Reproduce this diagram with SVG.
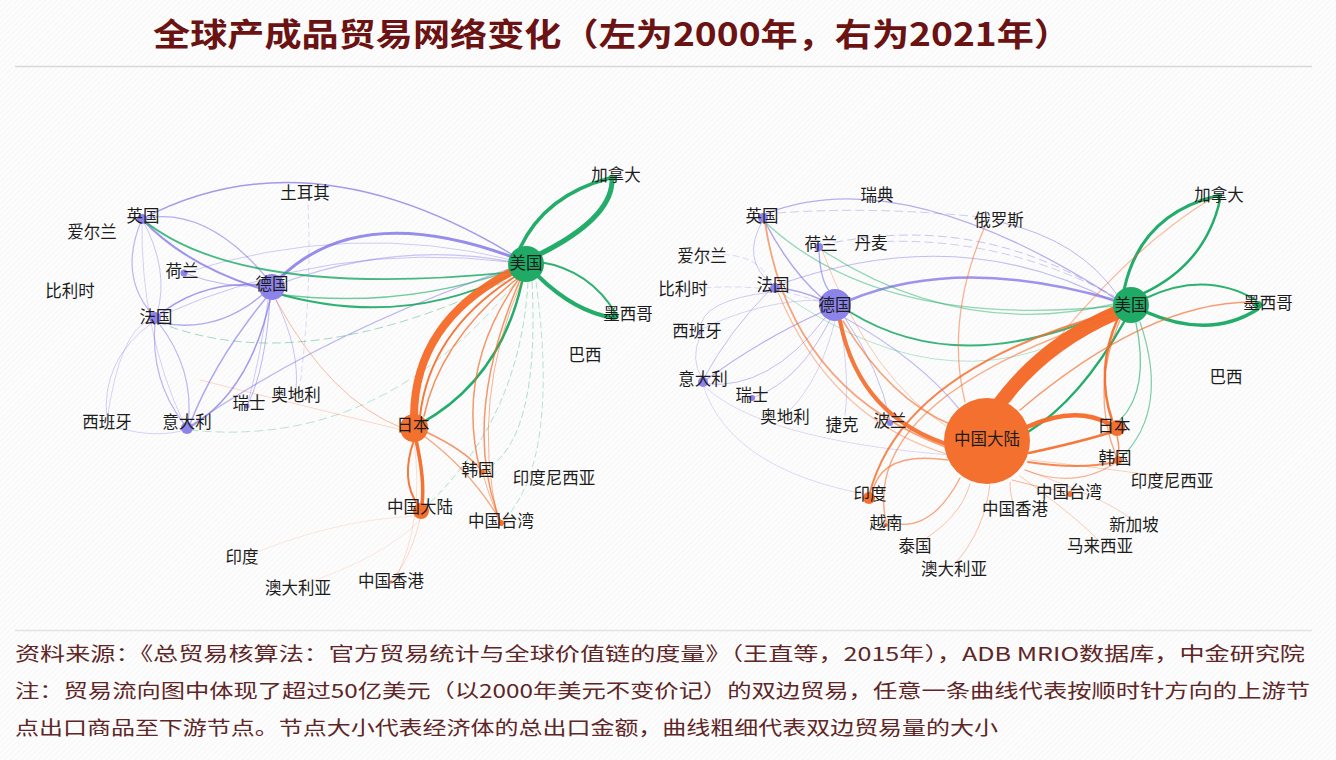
<svg xmlns="http://www.w3.org/2000/svg" width="1336" height="760" viewBox="0 0 1336 760">
<defs>
<pattern id="hatch" width="4" height="4" patternUnits="userSpaceOnUse" patternTransform="rotate(45)">
<rect width="4" height="4" fill="#fdfdfd"/>
<line x1="0" y1="0" x2="0" y2="4" stroke="#efefef" stroke-width="1"/>
</pattern>
<style>
.lbl{font-family:"Noto Sans CJK SC","Noto Sans",sans-serif;font-size:16.5px;fill:#1c1c1c;text-anchor:middle;dominant-baseline:central}
.title{font-family:"Noto Sans CJK SC",sans-serif;font-size:32px;font-weight:700;fill:#6b1212}
.foot{font-family:"Noto Sans CJK SC",sans-serif;font-size:19px;fill:#5e2626}
.e path{fill:none;stroke-linecap:round}
.p{stroke:#7d70e6}
.g{stroke:#17a862}
.o{stroke:#f46a28}
.np{fill:#8c84ea}
.ng{fill:#1fab66}
.no{fill:#f4702e}
</style>
</defs>
<rect width="1336" height="760" fill="url(#hatch)"/>
<text class="title" x="153" y="46" textLength="918" lengthAdjust="spacingAndGlyphs">全球产成品贸易网络变化（左为2000年，右为2021年）</text>
<line x1="15" y1="66.5" x2="1312" y2="66.5" stroke="#d8d8d8" stroke-width="1.5"/>
<line x1="15" y1="630.5" x2="1312" y2="630.5" stroke="#e2e2e2" stroke-width="1.5"/>

<g id="connectors" class="e">
<!-- left network: purple -->
<path class="p" d="M142,219 Q310,130 518,258" stroke-width="1.3" opacity=".7"/>
<path class="p" d="M142,219 Q205,205 266,277" stroke-width="1.3" opacity=".55"/>
<path class="p" d="M142,219 Q185,265 262,289" stroke-width="2" opacity=".75"/>
<path class="p" d="M142,219 Q118,275 152,314" stroke-width="1.2" opacity=".5"/>
<path class="p" d="M142,219 Q170,270 157,314" stroke-width="1" opacity=".4"/>
<path class="p" d="M155,318 Q200,280 262,285" stroke-width="1.5" opacity=".7"/>
<path class="p" d="M157,322 Q215,335 262,295" stroke-width="1.5" opacity=".6"/>
<path class="p" d="M266,298 Q215,360 190,424" stroke-width="1.5" opacity=".6"/>
<path class="p" d="M270,300 Q250,390 192,426" stroke-width="1.5" opacity=".7"/>
<path class="p" d="M155,322 Q150,380 184,424" stroke-width="1.2" opacity=".5"/>
<path class="p" d="M158,322 Q195,370 188,424" stroke-width="1.2" opacity=".5"/>
<path class="p" d="M153,322 Q100,360 107,420" stroke-width="1" opacity=".35"/>
<path class="p" d="M107,424 Q150,440 185,430" stroke-width="1" opacity=".3"/>
<path class="p" d="M270,300 Q265,370 248,404" stroke-width="1" opacity=".5"/>
<path class="p" d="M276,300 Q300,350 296,390" stroke-width="1" opacity=".4"/>
<path class="p" d="M184,273 Q230,290 262,285" stroke-width="1" opacity=".5"/>
<path class="p" d="M280,278 Q360,200 515,258" stroke-width="3" opacity=".8"/>
<path class="p" d="M282,283 Q400,240 512,262" stroke-width="1.2" opacity=".4"/>
<path class="p" d="M190,426 Q330,330 512,268" stroke-width="1.2" opacity=".5"/>
<path class="p" d="M160,316 Q330,240 510,262" stroke-width="1" opacity=".4"/>
<path class="p" d="M184,273 Q350,220 512,260" stroke-width="1" opacity=".35"/>
<path class="p" d="M142,219 Q140,330 184,424" stroke-width="1" opacity=".3"/>
<path class="p" d="M247,406 Q260,360 268,300" stroke-width="1" opacity=".35"/>
<path class="p" d="M308,205 Q312,290 300,385" stroke-width="1" opacity=".25" stroke-dasharray="5 4"/>
<path class="p" d="M107,420 Q120,330 150,320" stroke-width="1" opacity=".3"/>
<!-- left: green -->
<path class="g" d="M142,219 Q240,300 514,272" stroke-width="1.8" opacity=".8"/>
<path class="g" d="M272,292 Q400,330 512,274" stroke-width="2" opacity=".9"/>
<path class="g" d="M276,294 Q400,310 512,270" stroke-width="1.5" opacity=".6"/>
<path class="g" d="M158,322 Q300,380 512,278" stroke-width="1" opacity=".4" stroke-dasharray="8 5"/>
<path class="g" d="M190,430 Q380,450 516,282" stroke-width="1" opacity=".3" stroke-dasharray="8 5"/>
<path class="g" d="M522,282 Q500,380 420,424" stroke-width="2.5" opacity=".95"/>
<path class="g" d="M528,282 Q520,420 424,508" stroke-width="1" opacity=".35" stroke-dasharray="6 4"/>
<path class="g" d="M532,282 Q540,440 485,470" stroke-width="1" opacity=".35" stroke-dasharray="6 4"/>
<path class="g" d="M536,282 Q560,460 504,520" stroke-width="1" opacity=".3" stroke-dasharray="6 4"/>
<path class="g" d="M520,248 Q545,195 610,178" stroke-width="3.5" opacity=".95"/>
<path class="g" d="M612,182 Q610,220 536,256" stroke-width="5" opacity=".95"/>
<path class="g" d="M540,262 Q590,270 616,314" stroke-width="2" opacity=".9"/>
<path class="g" d="M538,276 Q575,312 614,318" stroke-width="4" opacity=".95"/>
<!-- left: orange -->
<path class="o" d="M414,416 Q415,320 515,270" stroke-width="8" opacity=".95"/>
<path class="o" d="M420,416 Q430,330 516,276" stroke-width="2" opacity=".9"/>
<path class="o" d="M424,416 Q440,340 518,278" stroke-width="1.5" opacity=".75"/>
<path class="o" d="M414,440 Q400,480 418,505" stroke-width="2" opacity=".9"/>
<path class="o" d="M416,440 Q425,480 422,504" stroke-width="3.5" opacity=".95"/>
<path class="o" d="M518,280 Q455,370 480,470" stroke-width="1.5" opacity=".7"/>
<path class="o" d="M520,280 Q460,420 500,520" stroke-width="1.5" opacity=".7"/>
<path class="o" d="M522,280 Q470,400 498,520" stroke-width="1" opacity=".5"/>
<path class="o" d="M426,432 Q465,450 481,470" stroke-width="1.5" opacity=".7"/>
<path class="o" d="M424,436 Q470,470 500,520" stroke-width="1.3" opacity=".6"/>
<path class="o" d="M483,474 Q490,500 500,520" stroke-width="1" opacity=".5"/>
<path class="o" d="M276,300 Q330,400 402,428" stroke-width="1" opacity=".45"/>
<path class="o" d="M200,380 Q320,410 402,430" stroke-width="1" opacity=".25"/>
<path class="o" d="M420,520 Q410,560 392,580" stroke-width=".8" opacity=".3"/>
<path class="o" d="M414,442 Q425,520 395,580" stroke-width=".8" opacity=".25"/>
<path class="o" d="M300,585 Q380,560 420,520" stroke-width=".8" opacity=".2"/>
<path class="o" d="M243,558 Q330,520 416,516" stroke-width=".8" opacity=".2"/>

<!-- right network: purple -->
<path class="p" d="M765,214 Q900,160 1115,298" stroke-width="1.3" opacity=".55"/>
<path class="p" d="M765,214 Q870,205 990,218" stroke-width="1" opacity=".35" stroke-dasharray="8 5"/>
<path class="p" d="M850,300 Q960,255 1114,300" stroke-width="2.5" opacity=".75"/>
<path class="p" d="M778,285 Q960,220 1114,302" stroke-width="1.2" opacity=".45"/>
<path class="p" d="M822,245 Q980,210 1114,298" stroke-width="1" opacity=".4" stroke-dasharray="8 5"/>
<path class="p" d="M873,242 Q1000,235 1114,296" stroke-width="1" opacity=".35" stroke-dasharray="8 5"/>
<path class="p" d="M1000,222 Q1080,240 1118,296" stroke-width="1" opacity=".5"/>
<path class="p" d="M765,222 Q790,270 822,298" stroke-width="1.5" opacity=".6"/>
<path class="p" d="M819,250 Q820,280 830,292" stroke-width="1.3" opacity=".6"/>
<path class="p" d="M778,288 Q800,290 822,300" stroke-width="1.5" opacity=".6"/>
<path class="p" d="M822,312 Q760,340 706,380" stroke-width="1.2" opacity=".55"/>
<path class="p" d="M825,318 Q770,390 706,384" stroke-width="1" opacity=".45"/>
<path class="p" d="M830,320 Q800,380 755,397" stroke-width="1" opacity=".45"/>
<path class="p" d="M835,321 Q820,380 790,410" stroke-width="1" opacity=".3"/>
<path class="p" d="M840,321 Q850,380 845,415" stroke-width="1" opacity=".3"/>
<path class="p" d="M845,318 Q880,370 890,420" stroke-width="1" opacity=".45"/>
<path class="p" d="M770,290 Q730,330 704,378" stroke-width="1" opacity=".45"/>
<path class="p" d="M772,292 Q700,300 700,330" stroke-width="1" opacity=".35"/>
<path class="p" d="M700,336 Q690,360 702,378" stroke-width="1" opacity=".3"/>
<path class="p" d="M703,385 Q760,440 950,455" stroke-width="1" opacity=".25"/>
<path class="p" d="M763,220 Q740,260 772,284" stroke-width="1" opacity=".4"/>
<path class="p" d="M700,330 Q760,300 822,300" stroke-width="1" opacity=".3"/>
<path class="p" d="M685,290 Q760,280 820,302" stroke-width="1" opacity=".25" stroke-dasharray="6 4"/>
<path class="p" d="M703,255 Q760,250 770,284" stroke-width="1" opacity=".25" stroke-dasharray="6 4"/>
<path class="p" d="M845,318 Q920,360 960,410" stroke-width="1.3" opacity=".45"/>
<path class="p" d="M703,385 Q730,470 870,495" stroke-width="1" opacity=".25"/>
<!-- right: green -->
<path class="g" d="M1124,290 Q1140,215 1216,196" stroke-width="3" opacity=".95"/>
<path class="g" d="M1220,200 Q1205,265 1142,294" stroke-width="2.5" opacity=".95"/>
<path class="g" d="M1146,298 Q1205,270 1256,300" stroke-width="2" opacity=".9"/>
<path class="g" d="M1146,312 Q1210,340 1258,309" stroke-width="3.5" opacity=".95"/>
<path class="g" d="M850,312 Q960,380 1114,310" stroke-width="2" opacity=".85"/>
<path class="g" d="M765,222 Q880,330 1114,306" stroke-width="1.3" opacity=".45"/>
<path class="g" d="M822,250 Q960,340 1114,304" stroke-width="1.3" opacity=".45"/>
<path class="g" d="M1124,322 Q1080,400 1028,432" stroke-width="2.5" opacity=".95"/>
<path class="g" d="M1136,323 Q1150,390 1120,420" stroke-width="1.3" opacity=".6"/>
<path class="g" d="M1140,322 Q1170,410 1121,458" stroke-width="1.2" opacity=".55"/>
<path class="g" d="M780,292 Q960,420 1114,312" stroke-width="1" opacity=".3"/>
<!-- right: orange -->
<path class="o" d="M995,410 Q1040,345 1118,312" stroke-width="14" opacity=".97"/>
<path class="o" d="M1027,427 Q1075,405 1110,424" stroke-width="4.5" opacity=".95"/>
<path class="o" d="M1029,453 Q1080,442 1112,432" stroke-width="2.5" opacity=".9"/>
<path class="o" d="M1028,462 Q1080,470 1115,462" stroke-width="2" opacity=".8"/>
<path class="o" d="M1025,470 Q1075,490 1117,462" stroke-width="1.2" opacity=".5"/>
<path class="o" d="M1118,318 Q1095,370 1112,420" stroke-width="2.5" opacity=".9"/>
<path class="o" d="M1120,320 Q1090,390 1116,456" stroke-width="1.3" opacity=".6"/>
<path class="o" d="M840,321 Q860,420 956,447" stroke-width="4" opacity=".9"/>
<path class="o" d="M843,321 Q890,400 952,425" stroke-width="1.5" opacity=".6"/>
<path class="o" d="M765,222 Q790,390 948,448" stroke-width="1.8" opacity=".6"/>
<path class="o" d="M778,292 Q830,420 950,455" stroke-width="1.3" opacity=".4"/>
<path class="o" d="M822,250 Q870,380 952,430" stroke-width="1" opacity=".35"/>
<path class="o" d="M869,496 Q900,370 1114,312" stroke-width="2" opacity=".8"/>
<path class="o" d="M948,460 Q880,450 872,494" stroke-width="1.5" opacity=".6"/>
<path class="o" d="M888,522 Q930,535 960,478" stroke-width="1.3" opacity=".6"/>
<path class="o" d="M886,522 Q860,400 1114,316" stroke-width="1.5" opacity=".55"/>
<path class="o" d="M915,545 Q960,520 970,484" stroke-width="1" opacity=".4"/>
<path class="o" d="M954,565 Q985,530 990,484" stroke-width="1" opacity=".4"/>
<path class="o" d="M985,226 Q945,320 965,402" stroke-width="1.3" opacity=".5"/>
<path class="o" d="M1212,198 Q1110,260 1010,402" stroke-width="1.2" opacity=".45"/>
<path class="o" d="M1020,410 Q1150,300 1256,302" stroke-width="1.5" opacity=".65"/>
<path class="o" d="M1010,482 Q1010,495 1014,506" stroke-width="1" opacity=".4"/>
<path class="o" d="M1012,480 Q1050,490 1068,492" stroke-width="1" opacity=".5"/>
<path class="o" d="M1020,476 Q1080,520 1100,542" stroke-width="1" opacity=".35"/>
<path class="o" d="M1025,470 Q1110,500 1132,520" stroke-width="1" opacity=".3"/>
<path class="o" d="M1030,460 Q1120,470 1170,478" stroke-width="1" opacity=".3"/>
<path class="o" d="M1117,436 Q1120,448 1118,456" stroke-width="1.5" opacity=".7"/>
</g>

<!-- left network nodes -->
<g id="L-uk"><circle class="np" cx="142" cy="219" r="5"/><text class="lbl" x="143" y="215">英国</text></g>
<g id="L-ireland"><text class="lbl" x="92" y="231">爱尔兰</text></g>
<g id="L-turkey"><text class="lbl" x="305" y="192">土耳其</text></g>
<g id="L-netherlands"><circle class="np" cx="184" cy="273" r="3.5"/><text class="lbl" x="182" y="270">荷兰</text></g>
<g id="L-belgium"><text class="lbl" x="70" y="290">比利时</text></g>
<g id="L-germany"><circle class="np" cx="272" cy="287" r="13"/><text class="lbl" x="272" y="283">德国</text></g>
<g id="L-france"><circle class="np" cx="155" cy="318" r="6"/><text class="lbl" x="156" y="316">法国</text></g>
<g id="L-spain"><text class="lbl" x="107" y="421">西班牙</text></g>
<g id="L-italy"><circle class="np" cx="187" cy="428" r="6"/><text class="lbl" x="187" y="421">意大利</text></g>
<g id="L-switzerland"><circle class="np" cx="247" cy="406" r="2.5"/><text class="lbl" x="249" y="402">瑞士</text></g>
<g id="L-austria"><text class="lbl" x="296" y="394">奥地利</text></g>
<g id="L-us"><circle class="ng" cx="526" cy="264" r="18"/><text class="lbl" x="526" y="262">美国</text></g>
<g id="L-canada"><circle class="ng" cx="612" cy="178" r="3.5"/><text class="lbl" x="616" y="174">加拿大</text></g>
<g id="L-mexico"><circle class="ng" cx="615" cy="316" r="3.5"/><text class="lbl" x="628" y="313">墨西哥</text></g>
<g id="L-brazil"><text class="lbl" x="585" y="354">巴西</text></g>
<g id="L-japan"><circle class="no" cx="414" cy="428" r="14"/><text class="lbl" x="413" y="424">日本</text></g>
<g id="L-korea"><circle class="no" cx="482" cy="472" r="3"/><text class="lbl" x="478" y="469">韩国</text></g>
<g id="L-indonesia"><text class="lbl" x="554" y="477">印度尼西亚</text></g>
<g id="L-china"><circle class="no" cx="421" cy="511" r="8"/><text class="lbl" x="420" y="506">中国大陆</text></g>
<g id="L-taiwan"><circle class="no" cx="501" cy="523" r="3"/><text class="lbl" x="501" y="520">中国台湾</text></g>
<g id="L-india"><text class="lbl" x="242" y="556">印度</text></g>
<g id="L-australia"><text class="lbl" x="298" y="587">澳大利亚</text></g>
<g id="L-hongkong"><circle class="no" cx="391" cy="582" r="1.5"/><text class="lbl" x="391" y="580">中国香港</text></g>

<!-- right network nodes -->
<g id="R-sweden"><text class="lbl" x="877" y="194">瑞典</text></g>
<g id="R-uk"><circle class="np" cx="763" cy="218" r="5"/><text class="lbl" x="762" y="215">英国</text></g>
<g id="R-russia"><text class="lbl" x="999" y="219">俄罗斯</text></g>
<g id="R-canada"><circle class="ng" cx="1219" cy="196" r="3"/><text class="lbl" x="1219" y="194">加拿大</text></g>
<g id="R-netherlands"><circle class="np" cx="819" cy="247" r="4"/><text class="lbl" x="821" y="243">荷兰</text></g>
<g id="R-denmark"><text class="lbl" x="871" y="242">丹麦</text></g>
<g id="R-ireland"><text class="lbl" x="702" y="255">爱尔兰</text></g>
<g id="R-france"><circle class="np" cx="775" cy="288" r="5"/><text class="lbl" x="773" y="284">法国</text></g>
<g id="R-belgium"><text class="lbl" x="683" y="288">比利时</text></g>
<g id="R-germany"><circle class="np" cx="835" cy="305" r="16"/><text class="lbl" x="835" y="304">德国</text></g>
<g id="R-us"><circle class="ng" cx="1131" cy="305" r="18"/><text class="lbl" x="1131" y="304">美国</text></g>
<g id="R-mexico"><circle class="ng" cx="1258" cy="305" r="4"/><text class="lbl" x="1268" y="302">墨西哥</text></g>
<g id="R-spain"><circle class="np" cx="699" cy="333" r="2"/><text class="lbl" x="697" y="330">西班牙</text></g>
<g id="R-brazil"><text class="lbl" x="1226" y="376">巴西</text></g>
<g id="R-italy"><circle class="np" cx="703" cy="382" r="5"/><text class="lbl" x="703" y="378">意大利</text></g>
<g id="R-switzerland"><circle class="np" cx="752" cy="398" r="3"/><text class="lbl" x="752" y="394">瑞士</text></g>
<g id="R-austria"><text class="lbl" x="785" y="416">奥地利</text></g>
<g id="R-czech"><text class="lbl" x="842" y="424">捷克</text></g>
<g id="R-poland"><circle class="np" cx="890" cy="423" r="3"/><text class="lbl" x="890" y="420">波兰</text></g>
<g id="R-china"><circle class="no" cx="987" cy="441" r="43"/><text class="lbl" x="987" y="438">中国大陆</text></g>
<g id="R-japan"><circle class="no" cx="1117" cy="428" r="8"/><text class="lbl" x="1114" y="425">日本</text></g>
<g id="R-korea"><circle class="no" cx="1118" cy="460" r="4"/><text class="lbl" x="1115" y="457">韩国</text></g>
<g id="R-indonesia"><text class="lbl" x="1172" y="480">印度尼西亚</text></g>
<g id="R-india"><circle class="no" cx="869" cy="498" r="6"/><text class="lbl" x="870" y="493">印度</text></g>
<g id="R-taiwan"><circle class="no" cx="1070" cy="494" r="3"/><text class="lbl" x="1069" y="491">中国台湾</text></g>
<g id="R-hongkong"><text class="lbl" x="1015" y="508">中国香港</text></g>
<g id="R-singapore"><text class="lbl" x="1134" y="524">新加坡</text></g>
<g id="R-vietnam"><circle class="no" cx="886" cy="525" r="2"/><text class="lbl" x="886" y="522">越南</text></g>
<g id="R-malaysia"><text class="lbl" x="1100" y="545">马来西亚</text></g>
<g id="R-thailand"><text class="lbl" x="915" y="545">泰国</text></g>
<g id="R-australia"><text class="lbl" x="954" y="568">澳大利亚</text></g>

<text class="foot" x="15" y="661" textLength="1290" lengthAdjust="spacingAndGlyphs">资料来源：《总贸易核算法：官方贸易统计与全球价值链的度量》（王直等，2015年），ADB MRIO数据库，中金研究院</text>
<text class="foot" x="15" y="698" textLength="1295" lengthAdjust="spacingAndGlyphs">注：贸易流向图中体现了超过50亿美元（以2000年美元不变价记）的双边贸易，任意一条曲线代表按顺时针方向的上游节</text>
<text class="foot" x="15" y="735" textLength="983" lengthAdjust="spacingAndGlyphs">点出口商品至下游节点。节点大小代表经济体的总出口金额，曲线粗细代表双边贸易量的大小</text>
</svg>
